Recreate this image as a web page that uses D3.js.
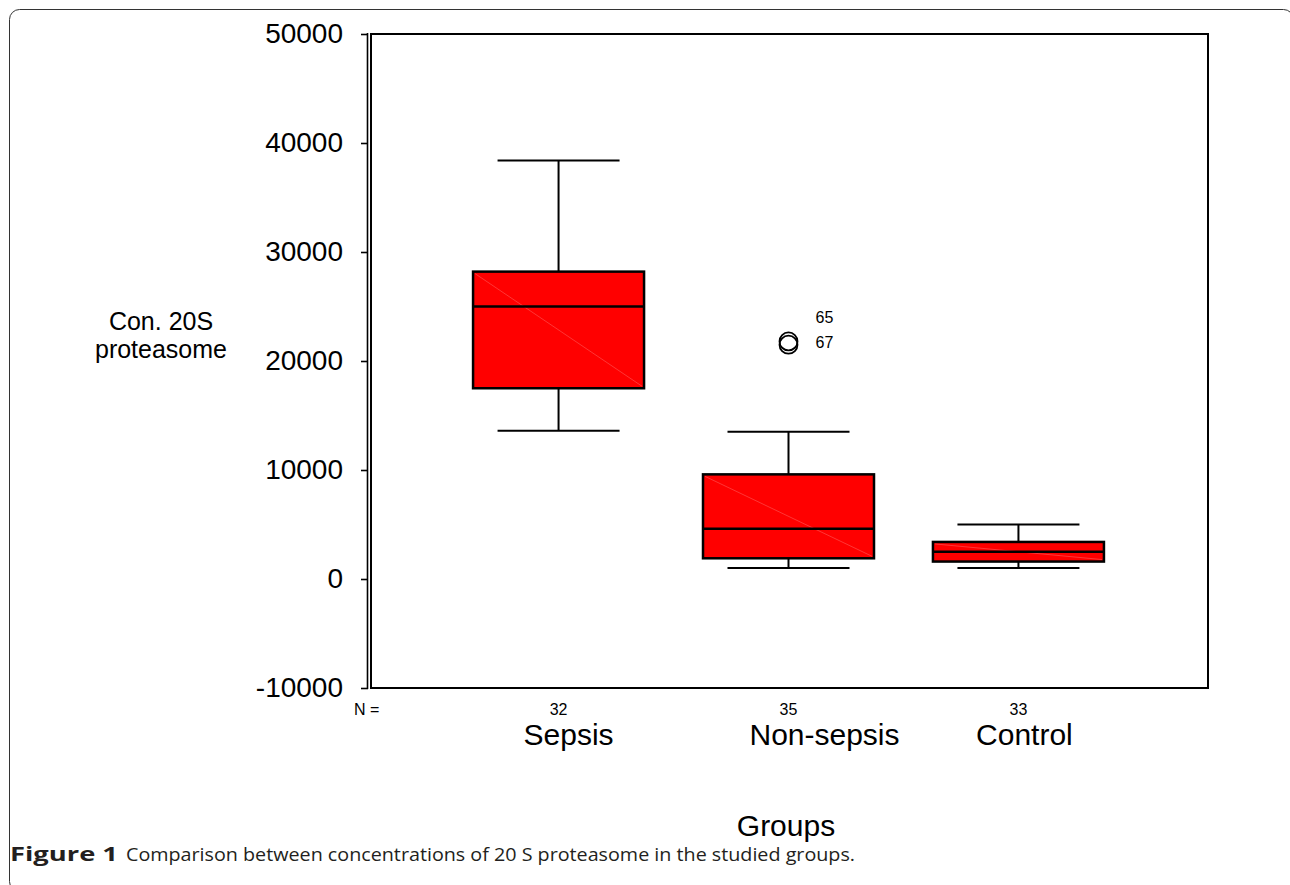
<!DOCTYPE html>
<html>
<head>
<meta charset="utf-8">
<script src="https://cdn.jsdelivr.net/npm/d3@7"></script>
<style>
  html, body { margin: 0; padding: 0; background: #fff; }
  svg { display: block; }
</style>
</head>
<body>
<svg id="chart" width="1290" height="885"></svg>
<script>
// ---- data ----
const categories   = ["Sepsis", "Non-sepsis", "Control"];
const counts       = [32, 35, 33];
const whiskerLow   = [13600, 1000, 1000];
const q1           = [17500, 1900, 1600];
const medians      = [25000, 4600, 2500];
const q3           = [28200, 9600, 3400];
const whiskerHigh  = [38400, 13500, 5000];
const outlierGroup = ["Non-sepsis", "Non-sepsis"];
const outlierValues = [21800, 21500];
const outlierIds   = ["65", "67"];
const yTicks       = [-10000, 0, 10000, 20000, 30000, 40000, 50000];
const yTitle       = ["Con. 20S", "proteasome"];
const xTitle       = "Groups";
const captionBold  = "Figure 1";
const captionText  = "Comparison between concentrations of 20 S proteasome in the studied groups.";

// ---- drawing ----
const svg = d3.select("#chart");
const FONT = "Liberation Sans, Arial, Helvetica, sans-serif";

// outer figure frame (right and bottom edges fall just outside the picture)
svg.append("rect")
  .attr("x", 9.5).attr("y", 9.5).attr("width", 1284).attr("height", 882)
  .attr("rx", 10).attr("fill", "none").attr("stroke", "#333").attr("stroke-width", 1);

const plotL = 371, plotR = 1208, plotT = 34, plotB = 688;
const y = d3.scaleLinear().domain([-10000, 50000]).range([plotB, plotT]);
const x = d3.scalePoint().domain(categories).range([370, 1207]).padding(0.82);

// plot frame
svg.append("rect")
  .attr("x", plotL).attr("y", plotT).attr("width", plotR - plotL).attr("height", plotB - plotT)
  .attr("fill", "none").attr("stroke", "#000").attr("stroke-width", 2);
svg.append("line")
  .attr("x1", 367.5).attr("x2", 367.5).attr("y1", plotT - 1).attr("y2", plotB + 1)
  .attr("stroke", "#000").attr("stroke-width", 1.6);

// y axis
const yAxis = d3.axisLeft(y).tickValues(yTicks).tickSize(7).tickPadding(18).tickFormat(d => String(d));
const gy = svg.append("g").attr("transform", "translate(368,0)").call(yAxis);
gy.select(".domain").remove();
gy.selectAll(".tick line").attr("stroke", "#000").attr("stroke-width", 1.6);
gy.selectAll(".tick text").attr("font-family", FONT).attr("font-size", 28).attr("fill", "#000");

// y title
const yt = svg.append("text").attr("font-family", FONT).attr("font-size", 25)
  .attr("text-anchor", "middle").attr("fill", "#000");
yTitle.forEach((t, i) => {
  yt.append("tspan").attr("x", 161).attr("y", 330 + i * 28).text(t);
});

// boxes
const half = 85.5, capHalf = 61;
const stats = categories.map((c, i) => ({
  c, n: counts[i], lo: whiskerLow[i], q1: q1[i], med: medians[i], q3: q3[i], hi: whiskerHigh[i]
}));
const g = svg.append("g");
stats.forEach(s => {
  const cx = x(s.c);
  g.append("line").attr("x1", cx).attr("x2", cx).attr("y1", y(s.hi)).attr("y2", y(s.q3))
    .attr("stroke", "#000").attr("stroke-width", 2);
  g.append("line").attr("x1", cx).attr("x2", cx).attr("y1", y(s.q1)).attr("y2", y(s.lo))
    .attr("stroke", "#000").attr("stroke-width", 2);
  g.append("line").attr("x1", cx - capHalf).attr("x2", cx + capHalf).attr("y1", y(s.hi)).attr("y2", y(s.hi))
    .attr("stroke", "#000").attr("stroke-width", 2);
  g.append("line").attr("x1", cx - capHalf).attr("x2", cx + capHalf).attr("y1", y(s.lo)).attr("y2", y(s.lo))
    .attr("stroke", "#000").attr("stroke-width", 2);
  g.append("rect").attr("x", cx - half).attr("y", y(s.q3)).attr("width", 2 * half)
    .attr("height", y(s.q1) - y(s.q3)).attr("fill", "#ff0000").attr("stroke", "#000").attr("stroke-width", 2.5);
  g.append("line").attr("x1", cx - half + 2).attr("y1", y(s.q3) + 2).attr("x2", cx + half - 2).attr("y2", y(s.q1) - 2)
    .attr("stroke", "#ff7070").attr("stroke-width", 0.8).attr("opacity", 0.6);
  g.append("line").attr("x1", cx - half).attr("x2", cx + half).attr("y1", y(s.med)).attr("y2", y(s.med))
    .attr("stroke", "#000").attr("stroke-width", 2.5);
});

// outliers
outlierValues.forEach((v, i) => {
  g.append("circle").attr("cx", x(outlierGroup[i])).attr("cy", y(v)).attr("r", 9)
    .attr("fill", "none").attr("stroke", "#000").attr("stroke-width", 1.8);
});
const lowest = d3.min(outlierValues);
outlierIds.slice().reverse().forEach((id, k) => {
  const gi = outlierIds.length - 1 - k;
  svg.append("text").attr("x", x(outlierGroup[gi]) + 27).attr("y", y(lowest) + 3 - k * 24.5)
    .attr("font-family", FONT).attr("font-size", 16).attr("fill", "#000").text(id);
});

// N = and counts
svg.append("text").attr("x", 354).attr("y", 715).attr("font-family", FONT).attr("font-size", 16)
  .attr("fill", "#000").text("N =");
stats.forEach(s => {
  svg.append("text").attr("x", x(s.c)).attr("y", 715).attr("text-anchor", "middle")
    .attr("font-family", FONT).attr("font-size", 16).attr("fill", "#000").text(s.n);
});

// category labels (offset as in the original figure)
const labelShift = [10, 36, 6];
categories.forEach((c, i) => {
  svg.append("text").attr("x", x(c) + labelShift[i]).attr("y", 745).attr("text-anchor", "middle")
    .attr("font-family", FONT).attr("font-size", 30).attr("fill", "#000").text(c);
});

// x title
svg.append("text").attr("x", 786).attr("y", 836).attr("text-anchor", "middle")
  .attr("font-family", FONT).attr("font-size", 30).attr("fill", "#000").text(xTitle);

// caption
svg.append("text").attr("x", 10).attr("y", 861).attr("font-family", "Open Sans, sans-serif")
  .attr("font-size", 20).attr("font-weight", "bold").attr("fill", "#231f20")
  .attr("textLength", 108).attr("lengthAdjust", "spacingAndGlyphs").text(captionBold);
svg.append("text").attr("x", 126).attr("y", 861).attr("font-family", "Open Sans, sans-serif")
  .attr("font-size", 17.5).attr("fill", "#231f20")
  .attr("textLength", 729).attr("lengthAdjust", "spacingAndGlyphs").text(captionText);
</script>
</body>
</html>
